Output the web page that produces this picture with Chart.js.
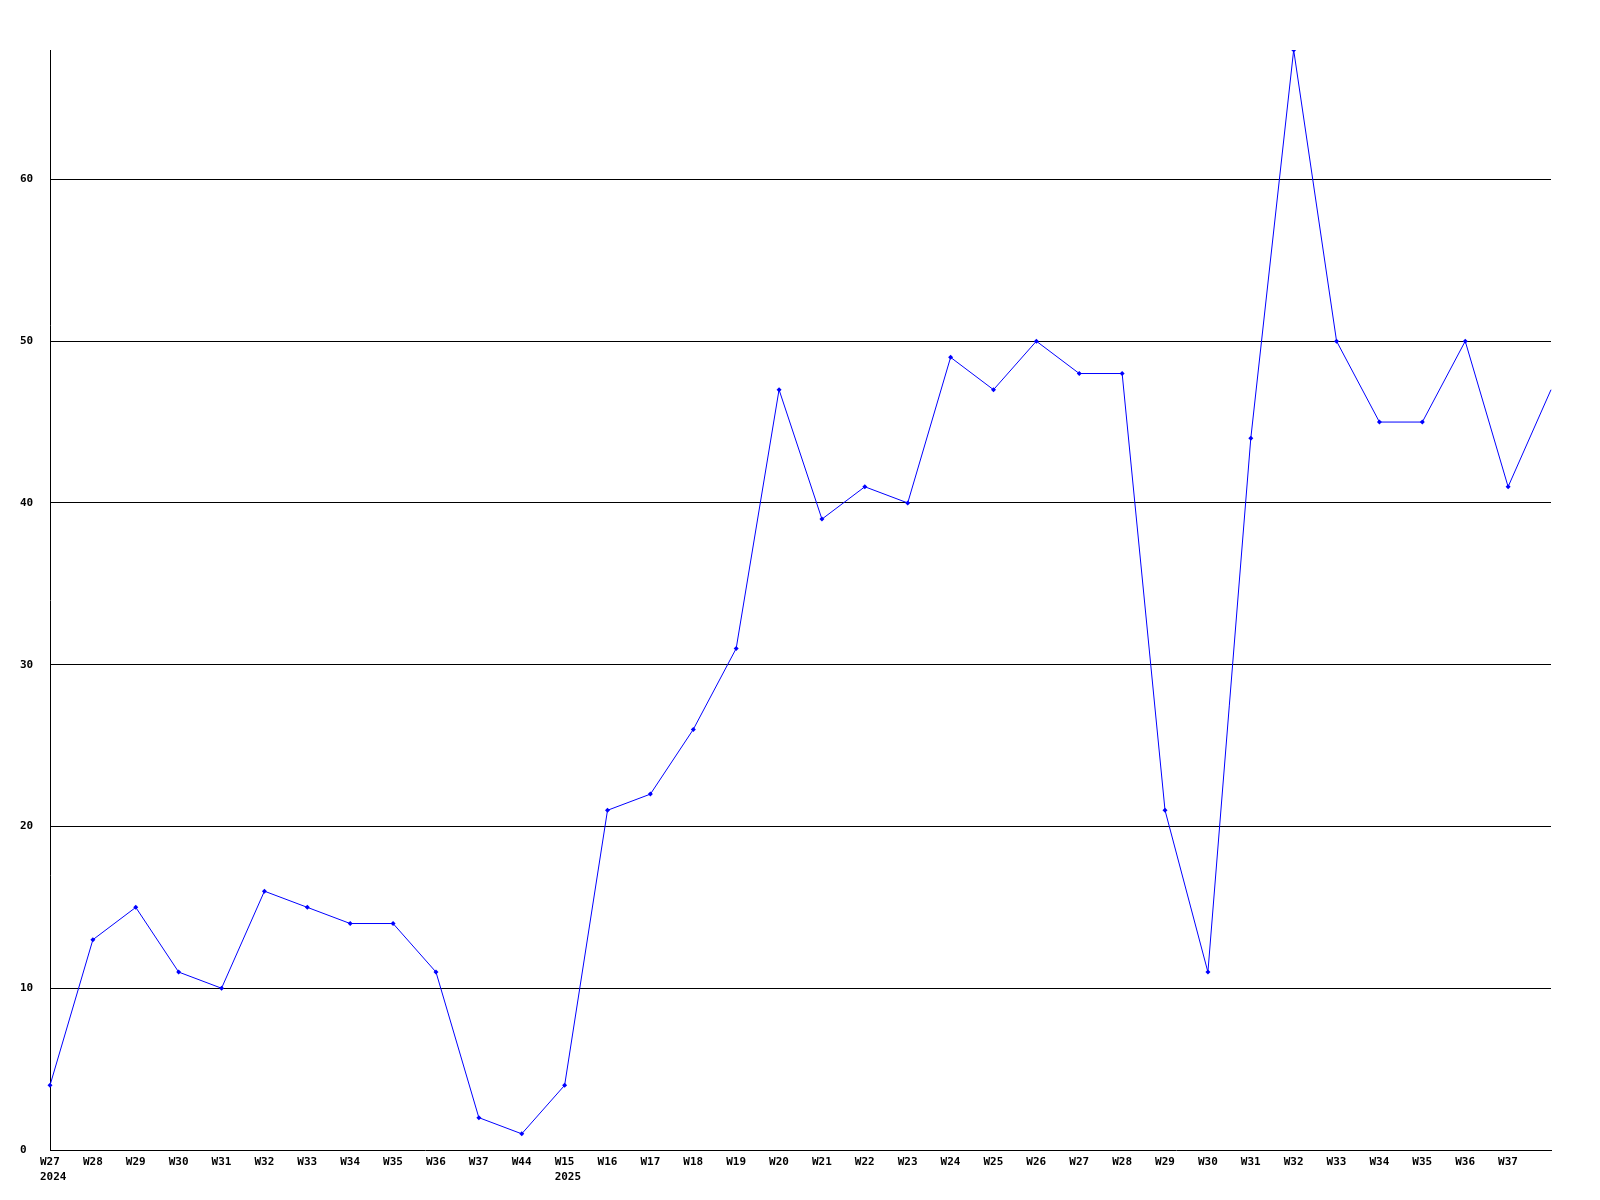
<!DOCTYPE html>
<html>
<head>
<meta charset="utf-8">
<script src="https://cdn.jsdelivr.net/npm/chart.js@4/dist/chart.umd.min.js"></script>
<style>
html,body{margin:0;padding:0;background:#fff;}
canvas{display:block;}
</style>
</head>
<body>
<canvas id="c" width="1600" height="1200"></canvas>
<script>
const weekLabels = [
  ['W27','2024'],'W28','W29','W30','W31','W32','W33','W34','W35','W36','W37','W44',
  ['W15','2025'],'W16','W17','W18','W19','W20','W21','W22','W23','W24','W25','W26',
  'W27','W28','W29','W30','W31','W32','W33','W34','W35','W36','W37',''
];
const counts = [
  4,13,15,11,10,16,15,14,14,11,2,1,
  4,21,22,26,31,47,39,41,40,49,47,50,
  48,48,21,11,44,68,50,45,45,50,41,47
];
const yMin = 0;
const yMax = 68;
const yStep = 10;

const tickFont = {family: '"DejaVu Sans Mono", "Liberation Mono", monospace', size: 11, weight: 'bold', lineHeight: 1.35};

new Chart(document.getElementById('c'), {
  type: 'line',
  data: {
    labels: weekLabels,
    datasets: [{
      data: counts,
      borderColor: '#0000ff',
      backgroundColor: '#0000ff',
      borderWidth: 1,
      tension: 0,
      fill: false,
      pointStyle: 'rectRot',
      pointRadius: ctx => ctx.dataIndex === counts.length - 1 ? 0 : 2.5,
      pointBorderWidth: 0,
      pointBackgroundColor: '#0000ff'
    }]
  },
  options: {
    responsive: false,
    animation: false,
    devicePixelRatio: 1,
    layout: {padding: {left: 20, top: 50, right: 49, bottom: 0}},
    plugins: {legend: {display: false}, tooltip: {enabled: false}, title: {display: false}},
    scales: {
      x: {
        offset: false,
        grid: {display: true, color: 'rgba(0,0,0,0)', drawTicks: false},
        border: {display: true, color: '#000', width: 1},
        ticks: {color: '#000', font: tickFont, padding: 5, maxRotation: 0, minRotation: 0, autoSkip: false, align: 'start', labelOffset: -10},
        afterFit: s => { s.height = 50; }
      },
      y: {
        min: yMin,
        max: yMax,
        grid: {
          drawTicks: false,
          lineWidth: 1,
          color: ctx => (ctx.tick && ctx.tick.value % yStep === 0 && ctx.tick.value !== 0) ? '#000' : 'rgba(0,0,0,0)'
        },
        border: {display: true, color: '#000', width: 1},
        ticks: {
          stepSize: yStep,
          color: '#000',
          font: tickFont,
          crossAlign: 'far',
          padding: 0,
          callback: v => (v % yStep === 0 ? String(v) : '')
        },
        afterFit: s => { s.width = 30; }
      }
    }
  }
});
</script>
</body>
</html>
